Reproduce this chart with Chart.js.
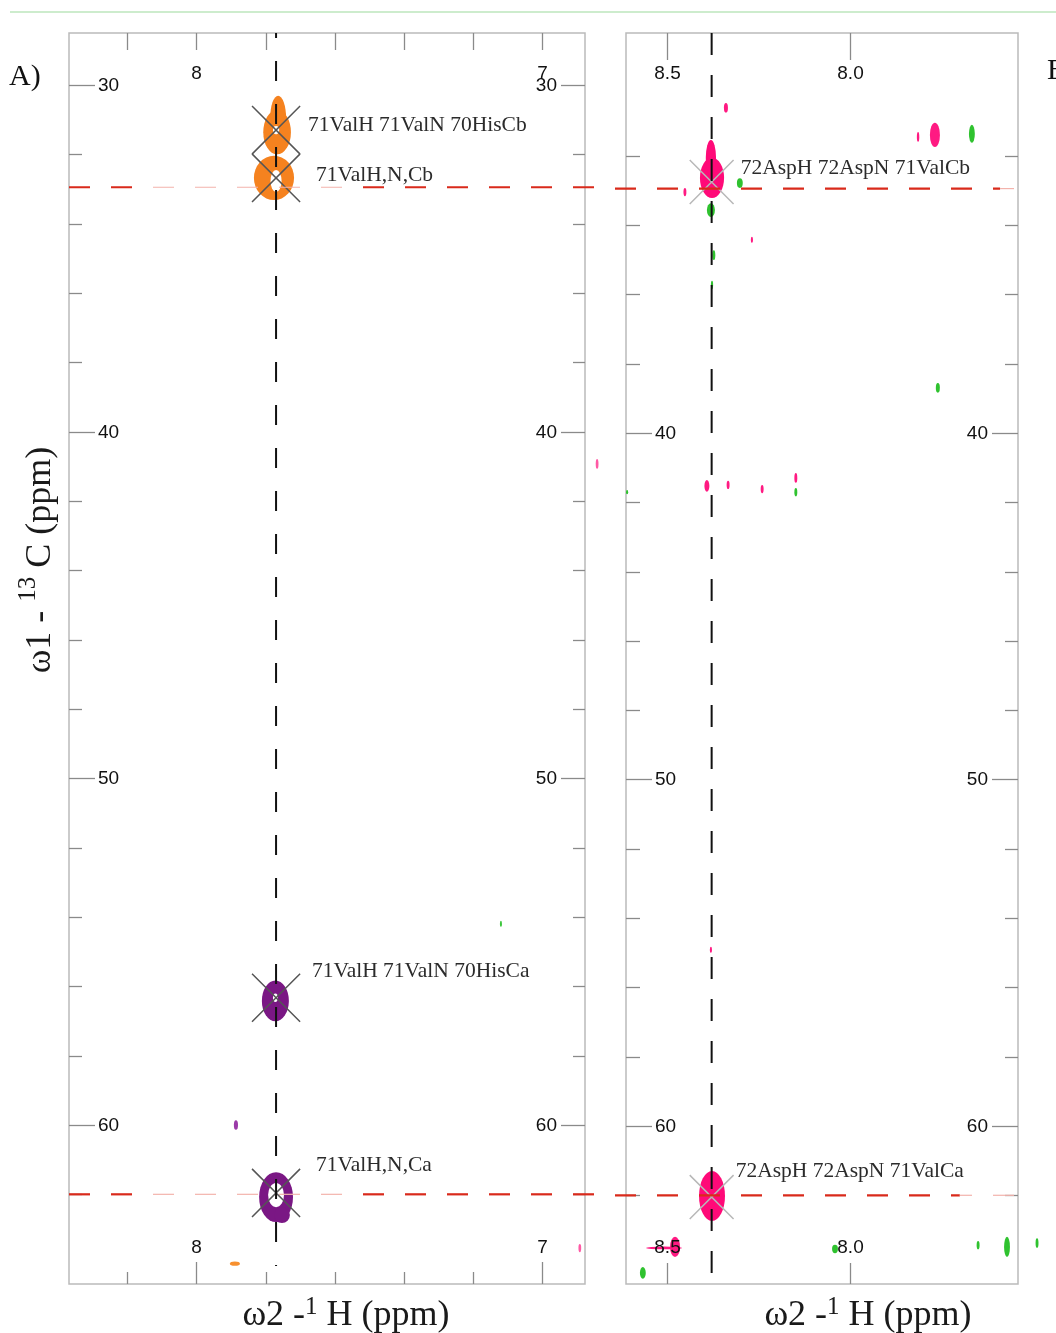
<!DOCTYPE html>
<html>
<head>
<meta charset="utf-8">
<title>HNCACB strips 71Val / 72Asp</title>
<script src="https://cdn.jsdelivr.net/npm/chart.js@4.4.1/dist/chart.umd.min.js"></script>
<style>
  html, body { margin: 0; padding: 0; background: #fff; }
  body { width: 1056px; height: 1333px; position: relative; overflow: hidden; }
  #topRule { position: absolute; left: 10px; top: 11px; width: 1046px; height: 2px; background: #cdeccd; }
  canvas { position: absolute; top: 0; }
  #stripA { left: 0; }
  #stripB { left: 606px; }
</style>
</head>
<body>
<div id="topRule"></div>
<canvas id="stripA" width="606" height="1333"></canvas>
<canvas id="stripB" width="450" height="1333"></canvas>
<script>
// ---------- Strip A: 71Val amide ----------
const peakLabelsA = ['71ValH 71ValN 70HisCb', '71ValH,N,Cb', '71ValH 71ValN 70HisCa', '71ValH,N,Ca'];
const peakHA = [7.770, 7.770, 7.770, 7.770];
const peakCA = [31.30, 32.68, 56.33, 61.96];
// contour lobes: [1H ppm, 13C ppm, 1H half-width ppm, 13C half-width ppm]
const cbLobesA = [[7.764, 30.95, 0.023, 0.64], [7.767, 31.36, 0.040, 0.64], [7.776, 32.68, 0.058, 0.64]];
const cbHolesA = [[7.770, 31.30, 0.009, 0.12], [7.770, 32.77, 0.016, 0.32]];
const caLobesA = [[7.772, 56.42, 0.039, 0.59], [7.770, 62.08, 0.049, 0.72], [7.753, 62.60, 0.023, 0.23]];
const caHolesA = [[7.772, 56.33, 0.007, 0.12], [7.770, 62.02, 0.023, 0.35]];
const noiseGreenA = [[7.120, 54.20, 0.003, 0.09]];
const noisePurpleA = [[7.886, 60.00, 0.006, 0.14]];
const noiseOrangeA = [[7.889, 64.00, 0.0145, 0.06]];
const noisePinkA = [[6.892, 63.55, 0.004, 0.12], [6.842, 40.93, 0.004, 0.14]];

// ---------- Strip B: 72Asp amide ----------
const peakLabelsB = ['72AspH 72AspN 71ValCb', '72AspH 72AspN 71ValCa'];
const peakHB = [8.378, 8.378];
const peakCB = [32.76, 62.05];
const lobesB = [[8.377, 32.64, 0.033, 0.58], [8.380, 32.07, 0.014, 0.52], [8.377, 62.02, 0.0355, 0.72]];
const noisePinkB = [
  [8.339, 30.62, 0.0055, 0.14], [7.768, 31.40, 0.0137, 0.35], [7.814, 31.46, 0.0033, 0.14],
  [8.268, 34.43, 0.003, 0.09], [8.391, 41.53, 0.0068, 0.17], [8.333, 41.50, 0.004, 0.12],
  [8.240, 41.62, 0.004, 0.12], [8.148, 41.30, 0.004, 0.14], [8.380, 54.92, 0.003, 0.09],
  [8.478, 63.49, 0.0137, 0.29], [8.508, 63.52, 0.049, 0.04], [8.451, 33.05, 0.004, 0.12]
];
const noiseGreenB = [
  [7.667, 31.37, 0.008, 0.26], [8.301, 32.79, 0.008, 0.14], [8.380, 33.57, 0.011, 0.20],
  [8.372, 34.87, 0.004, 0.14], [8.377, 35.73, 0.003, 0.12], [7.760, 38.70, 0.0055, 0.14],
  [8.148, 41.71, 0.004, 0.12], [8.566, 64.24, 0.008, 0.17], [8.041, 63.55, 0.008, 0.12],
  [7.650, 63.44, 0.004, 0.12], [7.571, 63.49, 0.008, 0.29], [7.489, 63.38, 0.004, 0.14],
  [8.609, 41.71, 0.003, 0.06]
];

// ---------- reference lines ----------
const hnLineA = 7.770;
const hnLineB = 8.378;
const carbonLines = [32.95, 62.0];

// ---------- ticks ----------
const xTicksA = [8.2, 8.0, 7.8, 7.6, 7.4, 7.2, 7.0];
const xLabelsA = [8, 7];
const yTicksA = [30, 32, 34, 36, 38, 40, 42, 44, 46, 48, 50, 52, 54, 56, 58, 60, 62];
const yLabelsA = [30, 40, 50, 60];
const xTicksB = [8.5, 8.0];
const xLabelsB = [8.5, 8.0];
const yTicksB = [32, 34, 36, 38, 40, 42, 44, 46, 48, 50, 52, 54, 56, 58, 60, 62];
const yLabelsB = [40, 50, 60];

const AXIS_FONT = '19px "Liberation Sans", Arial, sans-serif';
const LABEL_FONT = '21.5px "Liberation Serif", "Times New Roman", serif';
const TITLE_FONT = '36px "Liberation Serif", "Times New Roman", serif';
const SUP_FONT = '25px "Liberation Serif", "Times New Roman", serif';
const TAG_FONT = '30px "Liberation Serif", "Times New Roman", serif';

const xTitleParts = [['\u03c92 -', TITLE_FONT, 0], ['1', SUP_FONT, 11], [' H (ppm)', TITLE_FONT, 0]];
const yTitleParts = [['\u03c91 - ', TITLE_FONT, 0], ['13', SUP_FONT, 15], [' C (ppm)', TITLE_FONT, 0]];

function line(ctx, x0, y0, x1, y1) {
  ctx.beginPath(); ctx.moveTo(x0, y0); ctx.lineTo(x1, y1); ctx.stroke();
}

function fillEllipse(ctx, xs, ys, e) {
  const [h, c, wh, wc] = e;
  const px = xs.getPixelForValue(h), py = ys.getPixelForValue(c);
  const rx = Math.abs(xs.getPixelForValue(h + wh) - px);
  const ry = Math.abs(ys.getPixelForValue(c + wc) - py);
  ctx.beginPath();
  ctx.ellipse(px, py, Math.max(rx, 0.6), Math.max(ry, 0.6), 0, 0, Math.PI * 2);
  ctx.fill();
}

function drawRichText(ctx, parts, x, y) {
  let total = 0;
  parts.forEach(p => { ctx.font = p[1]; total += ctx.measureText(p[0]).width; });
  let cx = x - total / 2;
  ctx.textAlign = 'left';
  ctx.textBaseline = 'alphabetic';
  parts.forEach(p => {
    ctx.font = p[1];
    ctx.fillText(p[0], cx, y - p[2]);
    cx += ctx.measureText(p[0]).width;
  });
}

function stripPlugin(p) {
  return {
    id: 'nmrStrip',
    beforeDatasetsDraw(chart) {
      const ctx = chart.ctx, a = chart.chartArea, xs = chart.scales.x, ys = chart.scales.y;
      const T = p.tickLen;
      ctx.save();
      ctx.strokeStyle = '#bababa';
      ctx.lineWidth = 1.5;
      ctx.strokeRect(a.left, a.top, a.right - a.left, a.bottom - a.top);

      // tick marks (inward)
      ctx.strokeStyle = '#8a8a8a';
      ctx.lineWidth = 1.3;
      p.yTicks.forEach(v => {
        const py = Math.round(ys.getPixelForValue(v)) + 0.5;
        const major = p.yLabels.includes(v);
        line(ctx, a.left, py, a.left + (major ? T.yMajorL : T.yMinorL), py);
        line(ctx, a.right - (major ? T.yMajorR : T.yMinorR), py, a.right, py);
      });
      p.xTicks.forEach(v => {
        const px = Math.round(xs.getPixelForValue(v)) + 0.5;
        const major = p.xLabels.includes(v);
        line(ctx, px, a.top, px, a.top + (major ? T.xTopMajor : T.xTopMinor));
        line(ctx, px, a.bottom, px, a.bottom - (major ? T.xBotMajor : T.xBotMinor));
      });

      // contour blobs
      p.contours.forEach(g => {
        ctx.fillStyle = g.color;
        g.lobes.forEach(e => fillEllipse(ctx, xs, ys, e));
        if (g.holes) {
          ctx.fillStyle = '#fff';
          g.holes.forEach(e => fillEllipse(ctx, xs, ys, e));
        }
      });

      // tick labels on top of the contours
      ctx.fillStyle = '#111';
      ctx.font = AXIS_FONT;
      ctx.textBaseline = 'middle';
      p.yLabels.forEach(v => {
        const py = Math.round(ys.getPixelForValue(v)) + 0.5;
        ctx.textAlign = 'left';
        ctx.fillText(String(v), a.left + T.yMajorL + 3, py);
        ctx.textAlign = 'right';
        ctx.fillText(String(v), a.right - T.yMajorR - 4, py);
      });
      ctx.textAlign = 'center';
      p.xLabels.forEach(v => {
        const px = Math.round(xs.getPixelForValue(v)) + 0.5;
        const s = p.xFormat(v);
        ctx.fillText(s, px, a.top + T.xLabelTop);
        ctx.fillText(s, px, a.bottom - T.xLabelBot);
      });
      ctx.restore();
    },
    afterDatasetsDraw(chart) {
      const ctx = chart.ctx, a = chart.chartArea, xs = chart.scales.x, ys = chart.scales.y;
      ctx.save();
      // amide proton line of the strip
      const hx = xs.getPixelForValue(p.hnLine);
      ctx.strokeStyle = '#111';
      ctx.lineWidth = 2;
      ctx.setLineDash(p.hnDash);
      ctx.lineDashOffset = p.hnDashOffset;
      line(ctx, hx, a.top, hx, ys.getPixelForValue(p.hnEnd));

      // carbon reference lines, faint where they cross the labelled area
      carbonLines.forEach((c, i) => {
        const py = ys.getPixelForValue(c);
        const x0 = p.redFrom(chart), x1 = p.redTo(chart);
        const pale = p.pale[i].map(v => xs.getPixelForValue(v));
        const parts = [[x0, pale[0], false], [pale[0], pale[1], true], [pale[1], x1, false]];
        parts.forEach(([s, e, faint]) => {
          if (e - s <= 0.5) return;
          ctx.strokeStyle = faint ? '#f3b3ac' : '#d92a1b';
          ctx.lineWidth = faint ? 1.2 : 2.2;
          ctx.setLineDash([21, 21]);
          ctx.lineDashOffset = s - p.redOrigin;
          line(ctx, s, py, e, py);
        });
      });
      ctx.setLineDash([]);

      // peak assignments
      ctx.fillStyle = '#2b2b2b';
      ctx.font = LABEL_FONT;
      ctx.textAlign = 'left';
      ctx.textBaseline = 'middle';
      p.labels.forEach((t, i) => {
        const px = xs.getPixelForValue(p.peakH[i]) + p.labelOffsets[i][0];
        const py = ys.getPixelForValue(p.peakC[i]) + p.labelOffsets[i][1];
        ctx.fillText(t, px, py);
      });

      // axis titles and panel tag
      ctx.fillStyle = '#1a1a1a';
      drawRichText(ctx, xTitleParts, p.xTitleX, 1325);
      if (p.yTitle) {
        ctx.save();
        ctx.translate(50, 560);
        ctx.rotate(-Math.PI / 2);
        drawRichText(ctx, yTitleParts, 0, 0);
        ctx.restore();
      }
      ctx.font = TAG_FONT;
      ctx.textAlign = 'left';
      ctx.textBaseline = 'alphabetic';
      ctx.fillStyle = '#111';
      ctx.fillText(p.tag, p.tagX, p.tagY);
      ctx.restore();
    }
  };
}

function makeStrip(id, p) {
  return new Chart(document.getElementById(id), {
    type: 'scatter',
    data: {
      datasets: [{
        data: p.peakH.map((h, i) => ({ x: h, y: p.peakC[i] })),
        pointStyle: 'crossRot',
        pointRadius: p.crossR,
        pointHoverRadius: p.crossR,
        pointBorderColor: p.crossColor,
        borderColor: p.crossColor,
        pointBackgroundColor: 'rgba(0,0,0,0)',
        backgroundColor: 'rgba(0,0,0,0)',
        pointBorderWidth: 1.5,
        clip: false
      }]
    },
    options: {
      responsive: false,
      animation: false,
      devicePixelRatio: 1,
      events: [],
      layout: { padding: p.padding, autoPadding: false },
      plugins: { legend: { display: false }, tooltip: { enabled: false } },
      scales: {
        x: { type: 'linear', reverse: true, min: p.xRange[0], max: p.xRange[1], display: false },
        y: { type: 'linear', reverse: true, min: p.yRange[0], max: p.yRange[1], display: false }
      }
    },
    plugins: [stripPlugin(p)]
  });
}

makeStrip('stripA', {
  peakH: peakHA, peakC: peakCA, labels: peakLabelsA,
  labelOffsets: [[32, -5], [40, -3], [36, -26], [40, -28]],
  contours: [
    { color: '#f5821f', lobes: cbLobesA, holes: cbHolesA },
    { color: '#7a1784', lobes: caLobesA, holes: caHolesA },
    { color: '#3bc63b', lobes: noiseGreenA },
    { color: '#9b3aa8', lobes: noisePurpleA },
    { color: '#f7902f', lobes: noiseOrangeA },
    { color: '#ff5aa5', lobes: noisePinkA }
  ],
  xRange: [6.877, 8.3685], yRange: [28.5, 64.587],
  padding: { left: 69, top: 33, right: 21, bottom: 49 },
  xTicks: xTicksA, xLabels: xLabelsA, xFormat: v => String(v),
  yTicks: yTicksA, yLabels: yLabelsA,
  tickLen: { yMajorL: 26, yMinorL: 13, yMajorR: 24, yMinorR: 12,
             xTopMajor: 17, xTopMinor: 17, xBotMajor: 22, xBotMinor: 12, xLabelTop: 41, xLabelBot: 36 },
  hnLine: hnLineA, hnEnd: 64.07, hnDash: [20, 23], hnDashOffset: 15,
  pale: [[8.13, 7.57], [8.13, 7.57]],
  redFrom: ch => ch.chartArea.left, redTo: ch => ch.width, redOrigin: 69,
  crossR: 34, crossColor: '#555',
  xTitleX: 346, yTitle: true, tag: 'A)', tagX: 9, tagY: 85
});

makeStrip('stripB', {
  peakH: peakHB, peakC: peakCB, labels: peakLabelsB,
  labelOffsets: [[29, -14], [24, -26]],
  contours: [
    { color: '#ff0a78', lobes: lobesB },
    { color: '#ff1a82', lobes: noisePinkB },
    { color: '#2fc22f', lobes: noiseGreenB }
  ],
  xRange: [7.541, 8.612], yRange: [28.46, 64.56],
  padding: { left: 20, top: 33, right: 38, bottom: 49 },
  xTicks: xTicksB, xLabels: xLabelsB, xFormat: v => v.toFixed(1),
  yTicks: yTicksB, yLabels: yLabelsB,
  tickLen: { yMajorL: 26, yMinorL: 14, yMajorR: 26, yMinorR: 13,
             xTopMajor: 27, xTopMinor: 27, xBotMajor: 21, xBotMinor: 21, xLabelTop: 41, xLabelBot: 36 },
  hnLine: hnLineB, hnEnd: 64.56, hnDash: [22, 20], hnDashOffset: 0,
  pale: [[7.59, 7.541], [7.70, 7.541]],
  redFrom: () => 0, redTo: ch => ch.chartArea.right, redOrigin: 69 - 606,
  crossR: 31, crossColor: '#b8b8b8',
  xTitleX: 262, yTitle: false, tag: 'B)', tagX: 441, tagY: 79
});
</script>
</body>
</html>
